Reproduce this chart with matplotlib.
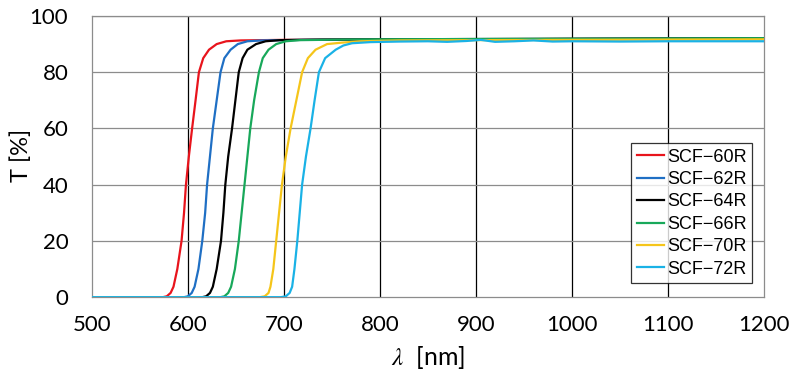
import matplotlib.pyplot as plt
import numpy as np

plt.rcParams["mathtext.fontset"] = "stix"

# transmission curves (wavelength nm, T %)
labels = ["SCF\u221260R", "SCF\u221262R", "SCF\u221264R", "SCF\u221266R", "SCF\u221270R", "SCF\u221272R"]
colors = ["#e8141c", "#1f6fc4", "#000000", "#18a85a", "#f5c51a", "#1ab2e6"]

wl_60 = [500, 574, 578, 582, 585, 589, 593.4, 596, 598, 601, 604.4, 608, 611.5, 616, 622, 630, 640, 655, 700, 800, 900, 1000, 1100, 1200]
t_60 = [0, 0, 0.3, 1.5, 3.7, 10, 20, 30, 40, 50, 60, 70, 80, 85, 88, 90, 91, 91.3, 91.5, 91.6, 91.7, 91.8, 91.9, 92.0]

wl_62 = [500, 596, 600, 604, 607, 611, 615, 618, 620, 623, 626, 630, 634, 638, 644.5, 652, 662, 677, 720, 800, 900, 1000, 1100, 1200]
t_62 = [0, 0, 0.3, 1.5, 3.7, 10, 20, 30, 40, 50, 60, 70, 80, 85, 88, 90, 91, 91.3, 91.5, 91.6, 91.7, 91.8, 91.9, 92.0]

wl_64 = [500, 615, 619, 623, 626, 630, 634.5, 637, 639, 642, 646, 649.5, 653, 657, 662, 671, 681, 696, 740, 800, 900, 1000, 1100, 1200]
t_64 = [0, 0, 0.3, 1.5, 3.7, 10, 20, 30, 40, 50, 60, 70, 80, 85, 88, 90, 91, 91.4, 91.6, 91.7, 91.8, 91.9, 92.0, 92.1]

wl_66 = [500, 634, 638, 642, 645, 649, 653, 656, 659, 662, 665, 669, 674, 678, 684, 692, 702, 717, 760, 800, 900, 1000, 1100, 1200]
t_66 = [0, 0, 0.3, 1.5, 3.7, 10, 20, 30, 40, 50, 60, 70, 80, 85, 88, 90, 91, 91.4, 91.6, 91.7, 91.8, 91.9, 92.0, 92.1]

wl_70 = [500, 675, 680, 684, 686, 689, 692, 695, 698, 702, 707, 713, 719, 725, 733, 745, 760, 780, 820, 900, 1000, 1100, 1200]
t_70 = [0, 0, 0.3, 1.5, 3.7, 10, 20, 30, 40, 50, 60, 70, 80, 85, 88, 90, 90.5, 91.0, 91.3, 91.4, 91.5, 91.6, 91.7]

wl_72 = [500, 697, 702, 706, 708.6, 711, 714, 716.5, 719, 723, 727.8, 732, 736.5, 743, 754, 762, 771, 790, 820, 850, 870, 890, 905, 920, 940, 960, 980, 1000, 1050, 1100, 1200]
t_72 = [0, 0, 0.3, 1.5, 3.7, 10, 20, 30, 40, 50, 60, 70, 80, 85, 88, 89.5, 90.3, 90.7, 90.9, 91.0, 90.8, 91.1, 91.5, 90.8, 91.0, 91.3, 90.9, 91.0, 90.9, 91.0, 91.0]

series = [(wl_60, t_60), (wl_62, t_62), (wl_64, t_64), (wl_66, t_66), (wl_70, t_70), (wl_72, t_72)]

x_ticks = [500, 600, 700, 800, 900, 1000, 1100, 1200]
y_ticks = [0, 20, 40, 60, 80, 100]

fig = plt.figure(figsize=(7.99, 3.8), dpi=100)
ax = fig.add_axes([0.115, 0.218, 0.841, 0.74])

for (wl, t), c, lab in zip(series, colors, labels):
    ax.plot(wl, t, color=c, lw=1.6, label=lab, zorder=3)

ax.set_xlim(500, 1200)
ax.set_ylim(0, 100)
ax.set_xticks(x_ticks)
ax.set_yticks(y_ticks)

# vertical grid black, horizontal grid gray
for x in x_ticks[1:-1]:
    ax.axvline(x, color="black", lw=0.9, zorder=1)
for y in y_ticks[1:]:
    ax.axhline(y, color="#8c8c8c", lw=0.9, zorder=1)

for s in ax.spines.values():
    s.set_color("#8c8c8c")
    s.set_linewidth(0.9)
ax.tick_params(length=0, labelsize=16)
ax.tick_params(axis="y", pad=17)
ax.tick_params(axis="x", pad=13)
for lab in ax.get_xticklabels() + ax.get_yticklabels():
    lab.set_fontfamily("Lato")

ax.set_ylabel("T [%]", fontsize=17, family="Lato")
ax.yaxis.set_label_coords(-0.089, 0.505)
ax.set_xlabel(r"$\lambda$  [nm]", fontsize=18, family="Lato", labelpad=6)

leg = ax.legend(loc="lower right", bbox_to_anchor=(0.982, 0.05), frameon=True, fancybox=False,
                handlelength=1.5, handletextpad=0.15, borderpad=0.3, labelspacing=0.3,
                borderaxespad=0, prop={"family": "Liberation Sans", "size": 13})
leg.get_frame().set_edgecolor("black")
leg.get_frame().set_linewidth(0.9)

fig.savefig("out.png", dpi=100)
